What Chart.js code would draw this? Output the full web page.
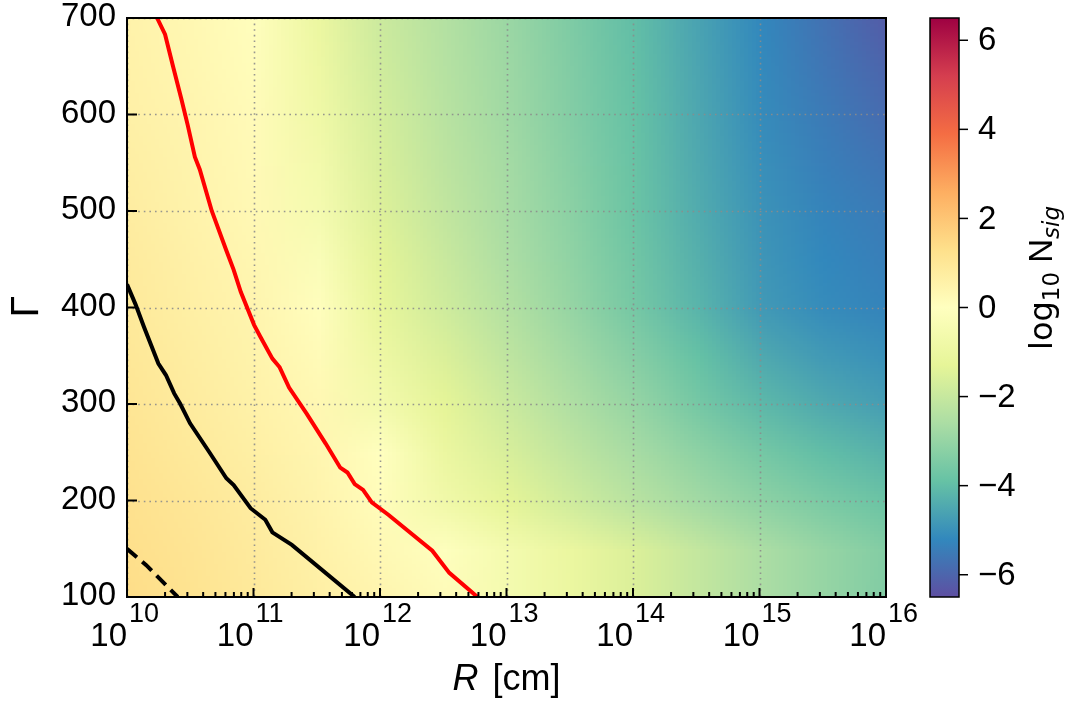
<!DOCTYPE html>
<html>
<head>
<meta charset="utf-8">
<script src="https://cdn.jsdelivr.net/npm/chart.js@4.4.0/dist/chart.umd.min.js"></script>
<style>
  html, body { margin: 0; padding: 0; background: #fff; }
  #wrap { width: 1070px; height: 702px; }
</style>
</head>
<body>
<div id="wrap"><canvas id="chart" width="1070" height="702"></canvas></div>
<script>
// grid nodes of the colour map: log10 R (columns) and Gamma (rows, top to bottom)
const rExp = [10, 10.5, 11, 11.5, 12, 12.5, 13, 13.5, 14, 14.5, 15, 15.5, 16];
const gammaRows = [700, 650, 600, 550, 500, 450, 400, 350, 300, 250, 200, 150, 100];

// log10 N_sig, one row per Gamma
const logNsig = [
    [0.50, 0.30, 0.05, -1.00, -1.90, -2.40, -2.90, -3.45, -4.00, -4.60, -5.20, -5.70, -6.20],
    [0.55, 0.35, 0.10, -0.90, -1.80, -2.35, -2.85, -3.40, -3.95, -4.55, -5.15, -5.60, -6.00],
    [0.60, 0.40, 0.15, -0.80, -1.70, -2.30, -2.80, -3.35, -3.90, -4.50, -5.10, -5.50, -5.85],
    [0.68, 0.45, 0.20, -0.65, -1.60, -2.20, -2.72, -3.28, -3.85, -4.45, -5.02, -5.40, -5.65],
    [0.75, 0.50, 0.25, -0.50, -1.50, -2.10, -2.65, -3.20, -3.80, -4.40, -4.95, -5.30, -5.50],
    [0.82, 0.58, 0.32, -0.25, -1.35, -1.95, -2.55, -3.10, -3.70, -4.30, -4.88, -5.20, -5.40],
    [0.90, 0.65, 0.40, 0.05, -1.20, -1.80, -2.40, -3.00, -3.60, -4.20, -4.80, -5.10, -5.30],
    [0.98, 0.72, 0.48, 0.18, -0.90, -1.55, -2.15, -2.75, -3.30, -3.90, -4.45, -4.80, -5.00],
    [1.05, 0.80, 0.55, 0.30, -0.60, -1.30, -1.90, -2.50, -3.00, -3.60, -4.10, -4.45, -4.70],
    [1.12, 0.90, 0.65, 0.38, 0.00, -1.00, -1.60, -2.15, -2.65, -3.15, -3.60, -4.00, -4.25],
    [1.20, 1.00, 0.75, 0.45, 0.10, -0.75, -1.30, -1.80, -2.30, -2.75, -3.15, -3.50, -3.80],
    [1.28, 1.08, 0.82, 0.55, 0.25, -0.05, -0.55, -1.05, -1.55, -2.05, -2.55, -3.00, -3.35],
    [1.35, 1.15, 0.90, 0.65, 0.40, 0.15, -0.55, -1.00, -1.55, -2.05, -2.55, -3.00, -3.40]
];

// contour lines (R in cm, Gamma)
const redR = [1.73e10, 2.00e10, 2.31e10, 2.69e10, 3.02e10, 3.44e10, 3.76e10, 4.68e10, 6.10e10, 6.97e10, 7.94e10,
    1.01e11, 1.13e11, 1.41e11, 1.61e11, 1.91e11, 2.63e11, 3.72e11, 4.85e11, 5.53e11, 6.31e11, 7.35e11, 8.61e11,
    1.17e12, 2.59e12, 3.53e12, 5.90e12];
const redG = [700, 683, 650, 616, 589, 556, 543, 500, 459, 439, 416,
    382, 370, 347, 338, 317, 290, 259, 234, 229, 217, 211, 198,
    185, 148, 125, 100];
const blackR = [1.00e10, 1.17e10, 1.36e10, 1.77e10, 2.03e10, 2.36e10, 2.64e10, 3.15e10, 4.48e10, 6.10e10, 6.97e10,
    9.48e10, 1.24e11, 1.41e11, 2.01e11, 6.31e11];
const blackG = [424, 403, 380, 342, 330, 311, 300, 280, 250, 223, 216, 192, 180, 167, 154, 100];
const dashR = [1.00e10, 1.42e10, 2.52e10];
const dashG = [150, 133, 100];

// axis ticks
const xTickExp = [10, 11, 12, 13, 14, 15, 16];
const yTicks = [100, 200, 300, 400, 500, 600, 700];
const cbTicks = [-6, -4, -2, 0, 2, 4, 6];
const cbMin = -6.5, cbMax = 6.5;

// matplotlib Spectral, reversed when used
const SPECTRAL = [
    [158, 1, 66], [213, 62, 79], [244, 109, 67], [253, 174, 97], [254, 224, 139], [255, 255, 191],
    [230, 245, 152], [171, 221, 164], [102, 194, 165], [50, 136, 189], [94, 79, 162]
];

function spectralR(v) {
    let t = 1 - (v - cbMin) / (cbMax - cbMin);
    t = Math.min(1, Math.max(0, t));
    const p = t * 10;
    const k = Math.min(9, Math.floor(p));
    const f = p - k;
    const a = SPECTRAL[k], b = SPECTRAL[k + 1];
    return a.map((c, i) => Math.round(c + (b[i] - c) * f));
}

const toPoints = (xs, ys) => xs.map((v, i) => ({ x: v, y: ys[i] }));
const FONT = '"Liberation Sans", Arial, sans-serif';

const heatmap = {
    id: 'heatmap',
    beforeDatasetsDraw(chart) {
        const { ctx, chartArea: a, scales: { x, y } } = chart;
        const cols = rExp.length, rows = gammaRows.length;
        const off = document.createElement('canvas');
        off.width = cols;
        off.height = rows;
        const octx = off.getContext('2d');
        const img = octx.createImageData(cols, rows);
        for (let j = 0; j < rows; j++) {
            for (let i = 0; i < cols; i++) {
                const c = spectralR(logNsig[j][i]);
                const k = (j * cols + i) * 4;
                img.data[k] = c[0];
                img.data[k + 1] = c[1];
                img.data[k + 2] = c[2];
                img.data[k + 3] = 255;
            }
        }
        octx.putImageData(img, 0, 0);

        // each node sits at the centre of its pixel
        const hx = (rExp[1] - rExp[0]) / 2;
        const hg = (gammaRows[0] - gammaRows[1]) / 2;
        const left = x.getPixelForValue(10 ** (rExp[0] - hx));
        const right = x.getPixelForValue(10 ** (rExp[cols - 1] + hx));
        const top = y.getPixelForValue(gammaRows[0] + hg);
        const bottom = y.getPixelForValue(gammaRows[rows - 1] - hg);

        ctx.save();
        ctx.beginPath();
        ctx.rect(a.left, a.top, a.right - a.left, a.bottom - a.top);
        ctx.clip();
        ctx.imageSmoothingEnabled = true;
        ctx.imageSmoothingQuality = 'low';
        ctx.drawImage(off, left, top, right - left, bottom - top);

        // dotted grid
        ctx.strokeStyle = 'rgba(140,140,140,0.9)';
        ctx.lineWidth = 1.6;
        ctx.setLineDash([1.6, 4]);
        xTickExp.forEach(e => {
            const px = Math.round(x.getPixelForValue(10 ** e)) + 0.5;
            ctx.beginPath();
            ctx.moveTo(px, a.top);
            ctx.lineTo(px, a.bottom);
            ctx.stroke();
        });
        yTicks.forEach(g => {
            const py = Math.round(y.getPixelForValue(g)) + 0.5;
            ctx.beginPath();
            ctx.moveTo(a.left, py);
            ctx.lineTo(a.right, py);
            ctx.stroke();
        });
        ctx.restore();
    },
    afterDatasetsDraw(chart) {
        const { ctx, chartArea: a, scales: { x, y, cb } } = chart;
        ctx.save();
        ctx.strokeStyle = '#000';
        ctx.fillStyle = '#000';

        // ticks, pointing inward
        ctx.lineWidth = 2;
        xTickExp.forEach(e => {
            const px = x.getPixelForValue(10 ** e);
            ctx.beginPath();
            ctx.moveTo(px, a.bottom);
            ctx.lineTo(px, a.bottom - 9);
            ctx.stroke();
            if (e < xTickExp[xTickExp.length - 1]) {
                for (let m = 2; m <= 9; m++) {
                    const pm = x.getPixelForValue(m * 10 ** e);
                    ctx.beginPath();
                    ctx.moveTo(pm, a.bottom);
                    ctx.lineTo(pm, a.bottom - 5);
                    ctx.stroke();
                }
            }
        });
        yTicks.forEach(g => {
            const py = y.getPixelForValue(g);
            ctx.beginPath();
            ctx.moveTo(a.left, py);
            ctx.lineTo(a.left + 10, py);
            ctx.stroke();
        });

        // frame
        ctx.lineWidth = 2;
        ctx.strokeRect(a.left, a.top, a.right - a.left, a.bottom - a.top);

        // tick labels
        ctx.font = '33px ' + FONT;
        ctx.textAlign = 'right';
        ctx.textBaseline = 'middle';
        yTicks.forEach(g => ctx.fillText(String(g), 116, y.getPixelForValue(g) - 1));

        xTickExp.forEach(e => {
            const px = x.getPixelForValue(10 ** e);
            ctx.textBaseline = 'alphabetic';
            ctx.textAlign = 'right';
            ctx.font = '33px ' + FONT;
            ctx.fillText('10', px, 646);
            ctx.textAlign = 'left';
            ctx.font = '27px ' + FONT;
            ctx.fillText(String(e), px + 2, 622);
        });

        // axis labels
        ctx.textBaseline = 'alphabetic';
        ctx.textAlign = 'left';
        ctx.font = 'italic 36px ' + FONT;
        const wR = ctx.measureText('R').width;
        ctx.font = '36px ' + FONT;
        const wRest = ctx.measureText(' [cm]').width;
        const cx = (a.left + a.right) / 2;
        const sx = cx - (wR + wRest + 4) / 2;
        ctx.font = 'italic 36px ' + FONT;
        ctx.fillText('R', sx, 690);
        ctx.font = '36px ' + FONT;
        ctx.fillText(' [cm]', sx + wR + 4, 690);

        ctx.save();
        ctx.translate(38, (a.top + a.bottom) / 2);
        ctx.rotate(-Math.PI / 2);
        ctx.textAlign = 'center';
        ctx.font = '38px "DejaVu Sans", sans-serif';
        ctx.fillText('\u0393', 0, 0);
        ctx.restore();

        // colour bar
        const cbL = 930, cbR = 959;
        const cTop = cb.getPixelForValue(cbMax), cBot = cb.getPixelForValue(cbMin);
        const grad = ctx.createLinearGradient(0, cTop, 0, cBot);
        SPECTRAL.forEach((c, k) => grad.addColorStop(k / (SPECTRAL.length - 1), `rgb(${c[0]},${c[1]},${c[2]})`));
        ctx.fillStyle = grad;
        ctx.fillRect(cbL, cTop, cbR - cbL, cBot - cTop);
        ctx.lineWidth = 1.5;
        ctx.strokeStyle = '#000';
        ctx.strokeRect(cbL, cTop, cbR - cbL, cBot - cTop);
        ctx.fillStyle = '#000';
        ctx.font = '33px ' + FONT;
        ctx.textAlign = 'left';
        ctx.textBaseline = 'middle';
        cbTicks.forEach(v => {
            const py = cb.getPixelForValue(v);
            ctx.beginPath();
            ctx.moveTo(cbR, py);
            ctx.lineTo(cbR + 9, py);
            ctx.stroke();
            ctx.fillText(v < 0 ? '\u2212' + Math.abs(v) : String(v), 978, py + 1);
        });

        // colour bar title: log10 N_sig
        ctx.save();
        ctx.translate(1052, 278);
        ctx.rotate(-Math.PI / 2);
        ctx.textBaseline = 'alphabetic';
        ctx.textAlign = 'left';
        const parts = [
            { t: 'log', f: '32px "DejaVu Sans", sans-serif', dy: 0 },
            { t: '10', f: '23px "DejaVu Sans", sans-serif', dy: 7 },
            { t: ' N', f: '33px ' + FONT, dy: 0 },
            { t: 'sig', f: 'italic 23px "DejaVu Sans", sans-serif', dy: 7 }
        ];
        let total = 0;
        parts.forEach(p => { ctx.font = p.f; p.w = ctx.measureText(p.t).width; total += p.w; });
        let px0 = -total / 2;
        parts.forEach(p => {
            ctx.font = p.f;
            ctx.fillText(p.t, px0, p.dy);
            px0 += p.w;
        });
        ctx.restore();

        ctx.restore();
    }
};

new Chart(document.getElementById('chart').getContext('2d'), {
    type: 'scatter',
    data: {
        datasets: [
            {
                label: 'red',
                data: toPoints(redR, redG),
                showLine: true,
                borderColor: '#ff0000',
                borderWidth: 4,
                pointRadius: 0,
                tension: 0
            },
            {
                label: 'black',
                data: toPoints(blackR, blackG),
                showLine: true,
                borderColor: '#000000',
                borderWidth: 4,
                pointRadius: 0,
                tension: 0
            },
            {
                label: 'black dashed',
                data: toPoints(dashR, dashG),
                showLine: true,
                borderColor: '#000000',
                borderWidth: 4,
                borderDash: [13, 7],
                pointRadius: 0,
                tension: 0
            }
        ]
    },
    options: {
        responsive: false,
        devicePixelRatio: 1,
        animation: false,
        layout: { padding: { top: 18, left: 0, right: 0, bottom: 0 } },
        plugins: { legend: { display: false }, tooltip: { enabled: false } },
        scales: {
            x: {
                type: 'logarithmic',
                position: 'bottom',
                min: 1e10,
                max: 1e16,
                ticks: { display: false },
                grid: { display: false },
                border: { display: false },
                afterFit: s => { s.height = 105; }
            },
            y: {
                type: 'linear',
                position: 'left',
                min: 100,
                max: 700,
                ticks: { display: false },
                grid: { display: false },
                border: { display: false },
                afterFit: s => { s.width = 127; }
            },
            cb: {
                type: 'linear',
                position: 'right',
                min: cbMin,
                max: cbMax,
                ticks: { display: false },
                grid: { display: false },
                border: { display: false },
                afterFit: s => { s.width = 184; }
            }
        }
    },
    plugins: [heatmap]
});
</script>
</body>
</html>
